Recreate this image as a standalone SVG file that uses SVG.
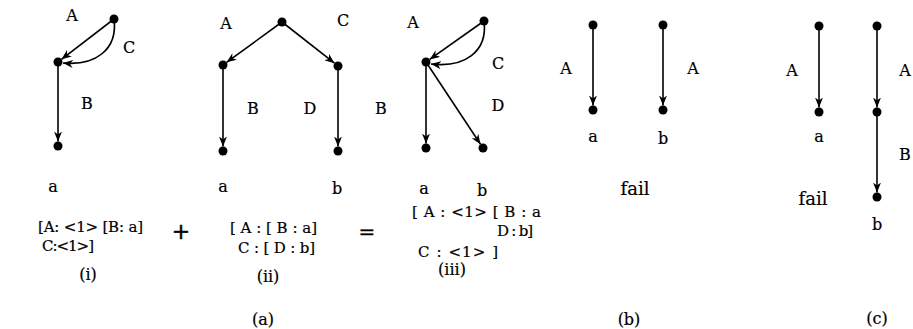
<svg xmlns="http://www.w3.org/2000/svg" width="913" height="329" viewBox="0 0 913 329">
<defs>
<marker id="arr" viewBox="0 0 10 8" refX="10" refY="4" markerWidth="10" markerHeight="8" markerUnits="userSpaceOnUse" orient="auto">
<path d="M0,0 L10,4 L0,8 L3,4 Z" fill="#000"/>
</marker>
<style>
.e{fill:none;stroke:#000;stroke-width:1.6;marker-end:url(#arr)}
.n{fill:#000}
text{font-family:"DejaVu Serif","Liberation Serif",serif;font-size:16px;fill:#000;stroke:#000;stroke-width:0.2}
.c{text-anchor:middle}
.f{font-size:15px}
.fl{font-size:18px;text-anchor:middle}
</style>
</defs>
<rect width="913" height="329" fill="#fff"/>
<g id="connectors">
<path class="e" d="M114,19 L61.5,59.3"/>
<path class="e" d="M114,19 C118,50 95,66 63,63"/>
<path class="e" d="M58,62 L58,141.5"/>
<path class="e" d="M282,22 L226.6,62.3"/>
<path class="e" d="M282,22 L334.5,63.2"/>
<path class="e" d="M223,65 L223,146.5"/>
<path class="e" d="M338,66 L338,146.5"/>
<path class="e" d="M484,21 L429.7,59.4"/>
<path class="e" d="M484,21 C488,52 464,68 431,64"/>
<path class="e" d="M426,62 L426,143.5"/>
<path class="e" d="M426,62 L480.5,144.3"/>
<path class="e" d="M593,25 L593,105.5"/>
<path class="e" d="M663,25 L663,105.5"/>
<path class="e" d="M819,26 L819,107.5"/>
<path class="e" d="M877,26 L877,107.5"/>
<path class="e" d="M877,112 L877,192.5"/>
</g>
<g id="graph-i">
<circle class="n" cx="114" cy="19" r="4.5"/>
<circle class="n" cx="58" cy="62" r="4.5"/>
<circle class="n" cx="58" cy="146" r="4.5"/>
<text class="c" x="72" y="21">A</text>
<text class="c" x="129" y="53">C</text>
<text class="c" x="87" y="109">B</text>
<text class="c" x="53" y="192">a</text>
<text class="f" x="38" y="232" textLength="105" lengthAdjust="spacing">[A: &lt;1&gt; [B: a]</text>
<text class="f" x="42" y="251" textLength="52" lengthAdjust="spacing">C:&lt;1&gt;]</text>
<text class="c" x="88" y="280">(i)</text>
</g>
<text class="c" x="181" y="239" style="font-size:22px;stroke-width:0.5">+</text>
<g id="graph-ii">
<circle class="n" cx="282" cy="22" r="4.5"/>
<circle class="n" cx="223" cy="65" r="4.5"/>
<circle class="n" cx="338" cy="66" r="4.5"/>
<circle class="n" cx="223" cy="151" r="4.5"/>
<circle class="n" cx="338" cy="151" r="4.5"/>
<text class="c" x="226" y="29">A</text>
<text class="c" x="343" y="26">C</text>
<text class="c" x="253" y="114">B</text>
<text class="c" x="310" y="114">D</text>
<text class="c" x="381" y="114">B</text>
<text class="c" x="223" y="192">a</text>
<text class="c" x="337" y="194">b</text>
<text class="f" x="230" y="233" textLength="87" lengthAdjust="spacing">[ A : [ B : a]</text>
<text class="f" x="238" y="253" textLength="77" lengthAdjust="spacing">C : [ D : b]</text>
<text class="c" x="268" y="282">(ii)</text>
<text class="c" x="263" y="325">(a)</text>
</g>
<text class="c" x="367" y="239" style="font-size:20px;stroke-width:0.3">=</text>
<g id="graph-iii">
<circle class="n" cx="484" cy="21" r="4.5"/>
<circle class="n" cx="426" cy="62" r="4.5"/>
<circle class="n" cx="426" cy="148" r="4.5"/>
<circle class="n" cx="483" cy="148" r="4.5"/>
<text class="c" x="413" y="28">A</text>
<text class="c" x="498" y="69">C</text>
<text class="c" x="498" y="111">D</text>
<text class="c" x="424" y="194">a</text>
<text class="c" x="482" y="196">b</text>
<text class="f" x="412" y="217" textLength="129" lengthAdjust="spacing">[ A : &lt;1&gt; [ B : a</text>
<text class="f" x="497" y="236" textLength="36" lengthAdjust="spacing">D : b]</text>
<text class="f" x="418" y="257" textLength="80" lengthAdjust="spacing">C : &lt;1&gt; ]</text>
<text class="c" x="452" y="275">(iii)</text>
</g>
<g id="graph-b">
<circle class="n" cx="593" cy="25" r="4.5"/>
<circle class="n" cx="593" cy="110" r="4.5"/>
<circle class="n" cx="663" cy="25" r="4.5"/>
<circle class="n" cx="663" cy="110" r="4.5"/>
<text class="c" x="566" y="74">A</text>
<text class="c" x="693" y="74">A</text>
<text class="c" x="593" y="142">a</text>
<text class="c" x="663" y="144">b</text>
<text class="fl" x="635" y="195">fail</text>
<text class="c" x="629" y="325">(b)</text>
</g>
<g id="graph-c">
<circle class="n" cx="819" cy="26" r="4.5"/>
<circle class="n" cx="819" cy="112" r="4.5"/>
<circle class="n" cx="877" cy="26" r="4.5"/>
<circle class="n" cx="877" cy="112" r="4.5"/>
<circle class="n" cx="877" cy="197" r="4.5"/>
<text class="c" x="792" y="76">A</text>
<text class="c" x="905" y="76">A</text>
<text class="c" x="819" y="142">a</text>
<text class="c" x="905" y="160">B</text>
<text class="fl" x="813" y="205">fail</text>
<text class="c" x="877" y="230">b</text>
<text class="c" x="877" y="324">(c)</text>
</g>
</svg>
